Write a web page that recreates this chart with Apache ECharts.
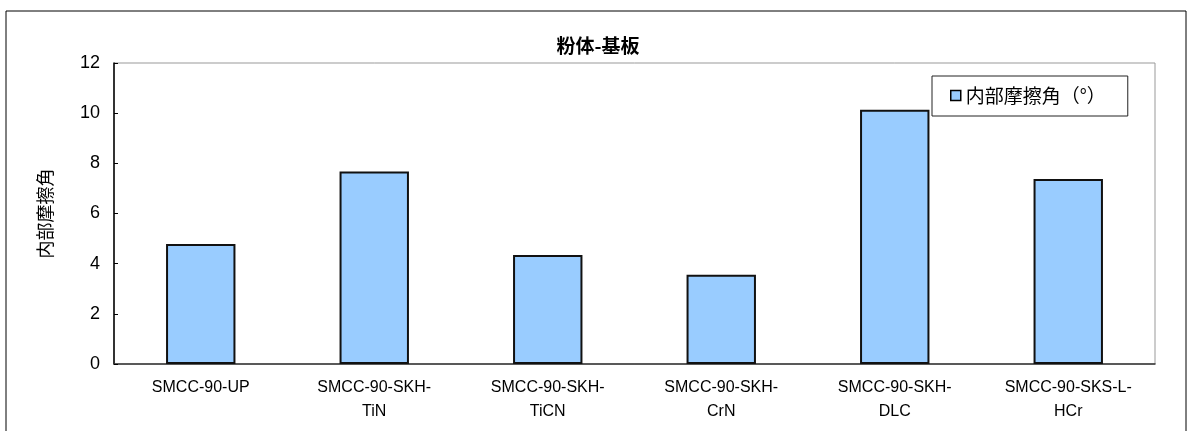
<!DOCTYPE html>
<html>
<head>
<meta charset="utf-8">
<script src="https://cdn.jsdelivr.net/npm/echarts@6/dist/echarts.min.js"></script>
<style>
  html, body { margin: 0; padding: 0; background: #fff; }
  #chart { width: 1196px; height: 431px; }
</style>
</head>
<body>
<div id="chart"></div>
<script>
// Substrate types tested against the powder
const categories = [
  'SMCC-90-UP',
  'SMCC-90-SKH-\nTiN',
  'SMCC-90-SKH-\nTiCN',
  'SMCC-90-SKH-\nCrN',
  'SMCC-90-SKH-\nDLC',
  'SMCC-90-SKS-L-\nHCr'
];
// Internal friction angle (degrees)
const frictionAngle = [4.78, 7.67, 4.35, 3.56, 10.14, 7.38];
const seriesName = '内部摩擦角（°）';
const yTicks = { min: 0, max: 12, interval: 2 };

const FONT = '"Liberation Sans", "Noto Sans CJK JP", sans-serif';
const CJK = '"Noto Sans CJK JP", sans-serif';

const chart = echarts.init(document.getElementById('chart'));
chart.setOption({
  animation: false,
  backgroundColor: '#fff',
  textStyle: { fontFamily: FONT },
  title: {
    text: '粉体-基板',
    left: 'center',
    top: 31,
    textStyle: { fontSize: 19, fontWeight: 'bold', color: '#000', fontFamily: CJK }
  },
  graphic: [{
    type: 'rect',
    shape: { x: 6, y: 11, width: 1180, height: 440 },
    style: { fill: 'none', stroke: '#000', lineWidth: 1 },
    silent: true,
    z: -1
  }],
  legend: {
    data: [seriesName],
    left: 932,
    top: 76,
    padding: [10, 22, 11, 18],
    borderColor: '#222',
    borderWidth: 1,
    backgroundColor: '#fff',
    icon: 'rect',
    itemWidth: 10,
    itemHeight: 10,
    itemGap: 4,
    textStyle: { fontSize: 19, color: '#000', fontFamily: CJK },
    itemStyle: { borderColor: '#000', borderWidth: 1.5 }
  },
  grid: {
    left: 114,
    top: 63,
    right: 41,
    bottom: 67,
    show: true,
    borderColor: '#999',
    borderWidth: 1
  },
  xAxis: {
    type: 'category',
    data: categories,
    boundaryGap: true,
    axisLine: { lineStyle: { color: '#333', width: 1.5 } },
    axisTick: { inside: true, length: 5, lineStyle: { color: '#333' } },
    axisLabel: {
      color: '#000',
      fontSize: 16,
      lineHeight: 24,
      margin: 12,
      interval: 0,
      fontFamily: FONT
    }
  },
  yAxis: {
    type: 'value',
    min: yTicks.min,
    max: yTicks.max,
    interval: yTicks.interval,
    name: '内部摩擦角',
    nameLocation: 'middle',
    nameGap: 60,
    nameTextStyle: { fontSize: 18, color: '#000', fontFamily: CJK },
    axisLine: { show: true, lineStyle: { color: '#000', width: 1.5 } },
    axisTick: { show: true, inside: true, length: 4, lineStyle: { color: '#000' } },
    axisLabel: { color: '#000', fontSize: 18, margin: 14, fontFamily: FONT },
    splitLine: { show: false }
  },
  series: [{
    name: seriesName,
    type: 'bar',
    data: frictionAngle,
    barWidth: '40%',
    itemStyle: { color: '#99CCFF', borderColor: '#111', borderWidth: 2 }
  }]
});
</script>
</body>
</html>
